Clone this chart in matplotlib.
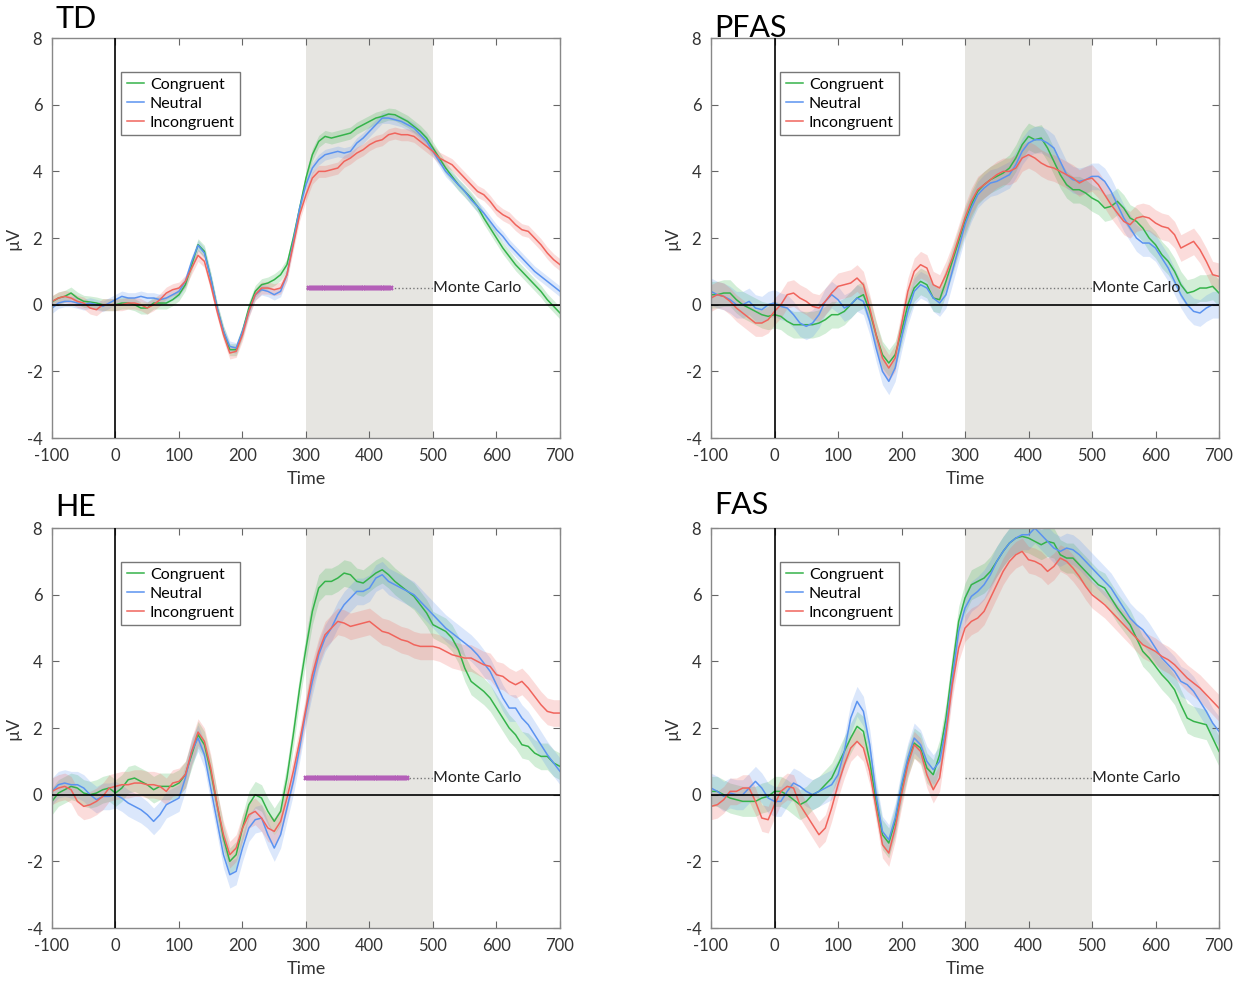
import numpy as np
import matplotlib
matplotlib.use("Agg")
import matplotlib.pyplot as plt

plt.rcParams['font.family'] = ['Lato', 'DejaVu Sans']
plt.rcParams['axes.unicode_minus'] = False

# time axis of the averaged ERPs (ms), one sample every 10 ms
time = np.arange(-100, 701, 10)

# --- TD ---
td_congruent = [0.08, 0.2, 0.25, 0.35, 0.2, 0.1, 0.08, 0.05, 0.0, 0.0,
                0.0, 0.05, 0.05, 0.0, -0.1, -0.1, 0.05, 0.05, 0.05, 0.15,
                0.3, 0.6, 1.2, 1.8, 1.6, 0.8, -0.1, -0.8, -1.35, -1.35,
                -0.8, -0.1, 0.4, 0.6, 0.65, 0.75, 0.9, 1.2, 2.0, 2.9,
                3.8, 4.5, 4.9, 5.05, 5.0, 5.05, 5.1, 5.15, 5.3, 5.4,
                5.5, 5.6, 5.65, 5.72, 5.7, 5.6, 5.5, 5.35, 5.2, 5.0,
                4.7, 4.4, 4.1, 3.85, 3.6, 3.4, 3.2, 2.95, 2.6, 2.3,
                2.0, 1.7, 1.45, 1.2, 1.0, 0.8, 0.6, 0.4, 0.15, -0.05, -0.25]
td_neutral = [-0.1, 0.05, 0.1, 0.1, 0.05, 0.0, 0.05, 0.0, -0.05, 0.05,
              0.15, 0.25, 0.2, 0.2, 0.25, 0.2, 0.2, 0.15, 0.2, 0.3,
              0.4, 0.7, 1.3, 1.78, 1.55, 0.8, -0.1, -0.8, -1.25, -1.3,
              -0.8, -0.2, 0.3, 0.45, 0.4, 0.3, 0.4, 0.9, 1.9, 2.9,
              3.6, 4.1, 4.35, 4.5, 4.55, 4.6, 4.55, 4.6, 4.85, 5.0,
              5.2, 5.4, 5.6, 5.6, 5.55, 5.5, 5.4, 5.3, 5.1, 4.9,
              4.6, 4.3, 4.0, 3.8, 3.6, 3.4, 3.15, 2.95, 2.75, 2.5,
              2.25, 2.05, 1.8, 1.6, 1.4, 1.2, 1.0, 0.85, 0.7, 0.55, 0.4]
td_incongruent = [0.1, 0.2, 0.25, 0.2, 0.1, 0.05, -0.1, -0.15, 0.0, 0.0,
                  0.0, 0.0, 0.05, 0.05, 0.0, -0.1, 0.0, 0.15, 0.35, 0.45,
                  0.5, 0.7, 1.1, 1.48, 1.3, 0.6, -0.2, -0.9, -1.45, -1.4,
                  -0.9, -0.2, 0.3, 0.5, 0.5, 0.45, 0.5, 0.9, 1.8, 2.7,
                  3.3, 3.8, 4.0, 4.0, 4.05, 4.1, 4.3, 4.4, 4.55, 4.65,
                  4.8, 4.9, 4.95, 5.1, 5.15, 5.1, 5.1, 5.05, 4.9, 4.75,
                  4.6, 4.4, 4.3, 4.2, 4.0, 3.8, 3.6, 3.4, 3.3, 3.1,
                  2.85, 2.7, 2.6, 2.4, 2.25, 2.2, 2.0, 1.8, 1.55, 1.35, 1.2]

# --- PFAS ---
pfas_congruent = [0.3, 0.3, 0.35, 0.35, 0.15, 0.0, -0.1, -0.2, -0.3, -0.35,
                  -0.3, -0.35, -0.5, -0.6, -0.6, -0.6, -0.6, -0.55, -0.45, -0.3,
                  -0.3, -0.2, 0.0, 0.2, 0.3, -0.2, -0.9, -1.5, -1.75, -1.5,
                  -0.8, 0.0, 0.5, 0.7, 0.6, 0.2, 0.15, 0.7, 1.3, 1.9,
                  2.5, 3.0, 3.4, 3.6, 3.75, 3.85, 3.95, 4.1, 4.4, 4.8,
                  5.05, 4.95, 5.0, 4.7, 4.3, 3.9, 3.6, 3.45, 3.45, 3.35,
                  3.2, 3.1, 2.9, 2.95, 3.1, 2.9, 2.6, 2.5, 2.3, 2.0,
                  1.8, 1.5, 1.3, 1.0, 0.6, 0.35, 0.4, 0.5, 0.5, 0.55, 0.35]
pfas_neutral = [0.4, 0.3, 0.25, 0.15, 0.0, 0.0, 0.1, -0.1, -0.15, 0.0,
                0.05, -0.05, -0.1, -0.3, -0.55, -0.65, -0.55, -0.3, 0.1, 0.3,
                0.15, -0.1, 0.0, 0.2, 0.1, -0.5, -1.3, -2.0, -2.3, -1.9,
                -1.0, -0.2, 0.4, 0.6, 0.5, 0.2, 0.05, 0.3, 1.0, 1.7,
                2.4, 2.9, 3.3, 3.5, 3.65, 3.7, 3.8, 3.9, 4.2, 4.6,
                4.85, 4.95, 4.95, 4.85, 4.7, 4.3, 3.9, 3.75, 3.7, 3.75,
                3.85, 3.85, 3.7, 3.4, 3.0, 2.6, 2.3, 2.0, 1.85, 1.85,
                1.7, 1.4, 1.1, 0.7, 0.3, 0.0, -0.2, -0.25, -0.1, 0.0, 0.0]
pfas_incongruent = [0.2, 0.3, 0.25, 0.1, -0.1, -0.25, -0.4, -0.55, -0.55, -0.45,
                    -0.2, 0.0, 0.3, 0.35, 0.2, 0.1, -0.05, -0.1, 0.1, 0.35,
                    0.55, 0.6, 0.65, 0.8, 0.6, -0.1, -0.9, -1.6, -1.9, -1.6,
                    -0.6, 0.4, 1.0, 1.2, 1.1, 0.6, 0.5, 0.9, 1.4, 2.0,
                    2.6, 3.1, 3.45, 3.6, 3.75, 3.9, 4.0, 4.0, 4.1, 4.4,
                    4.5, 4.4, 4.25, 4.15, 4.1, 4.0, 3.9, 3.8, 3.65, 3.75,
                    3.8, 3.6, 3.3, 3.0, 2.75, 2.5, 2.4, 2.6, 2.65, 2.6,
                    2.45, 2.35, 2.3, 2.1, 1.7, 1.8, 1.9, 1.65, 1.3, 0.9, 0.85]

# --- HE ---
he_congruent = [-0.2, 0.05, 0.15, 0.25, 0.2, 0.05, 0.0, 0.05, 0.15, 0.2,
                0.05, 0.2, 0.45, 0.5, 0.4, 0.3, 0.15, 0.25, 0.25, 0.25,
                0.35, 0.6, 1.2, 1.8, 1.5, 0.7, -0.3, -1.3, -2.0, -1.8,
                -1.0, -0.3, 0.0, -0.1, -0.5, -0.8, -0.5, 0.5, 1.8, 3.2,
                4.4, 5.5, 6.2, 6.4, 6.4, 6.5, 6.65, 6.6, 6.4, 6.35,
                6.5, 6.65, 6.75, 6.6, 6.4, 6.25, 6.1, 5.95, 5.7, 5.45,
                5.1, 5.0, 4.9, 4.7, 4.35, 3.8, 3.4, 3.25, 3.1, 2.9,
                2.6, 2.3, 2.0, 1.8, 1.5, 1.45, 1.25, 1.15, 1.15, 0.95, 0.85]
he_neutral = [0.1, 0.3, 0.35, 0.3, 0.3, 0.2, 0.0, -0.15, -0.05, -0.05,
              0.0, -0.1, -0.25, -0.35, -0.45, -0.6, -0.8, -0.6, -0.3, -0.2,
              -0.1, 0.5, 1.3, 1.7, 1.2, 0.2, -0.8, -1.8, -2.4, -2.3,
              -1.6, -1.0, -0.75, -0.7, -1.2, -1.6, -1.2, -0.4, 0.4, 1.4,
              2.5, 3.4, 4.2, 4.7, 5.0, 5.4, 5.7, 5.9, 6.1, 6.1,
              6.2, 6.5, 6.6, 6.4, 6.3, 6.2, 6.1, 6.0, 5.8, 5.6,
              5.4, 5.2, 5.0, 4.85, 4.7, 4.55, 4.4, 4.2, 3.95, 3.7,
              3.3, 2.9, 2.6, 2.6, 2.3, 2.1, 1.8, 1.5, 1.2, 0.95, 0.7]
he_incongruent = [0.1, 0.2, 0.25, 0.15, -0.2, -0.35, -0.3, -0.2, -0.05, 0.2,
                  0.25, 0.3, 0.3, 0.35, 0.35, 0.3, 0.3, 0.25, 0.1, 0.35,
                  0.4, 0.6, 1.3, 1.88, 1.6, 0.8, -0.3, -1.2, -1.8, -1.6,
                  -1.0, -0.6, -0.5, -0.7, -1.0, -1.1, -0.8, -0.1, 0.7, 1.6,
                  2.6, 3.6, 4.3, 4.8, 5.0, 5.2, 5.15, 5.05, 5.1, 5.15,
                  5.2, 5.05, 4.9, 4.85, 4.75, 4.65, 4.6, 4.5, 4.45, 4.45,
                  4.45, 4.4, 4.3, 4.2, 4.15, 4.1, 4.1, 4.0, 3.9, 3.85,
                  3.6, 3.55, 3.4, 3.3, 3.4, 3.2, 2.95, 2.7, 2.5, 2.45, 2.45]

# --- FAS ---
fas_congruent = [0.1, 0.1, 0.0, -0.1, -0.15, -0.2, -0.2, -0.2, -0.1, -0.05,
                 0.1, 0.1, 0.0, -0.15, -0.3, -0.2, 0.0, 0.1, 0.3, 0.5,
                 0.9, 1.3, 1.7, 2.05, 1.9, 1.0, -0.2, -1.2, -1.45, -0.8,
                 0.2, 1.0, 1.55, 1.4, 0.8, 0.6, 1.2, 2.3, 3.8, 5.2,
                 5.9, 6.3, 6.4, 6.5, 6.7, 7.0, 7.3, 7.55, 7.7, 7.75,
                 7.7, 7.6, 7.5, 7.6, 7.55, 7.2, 7.1, 7.1, 6.9, 6.7,
                 6.5, 6.3, 6.2, 5.9, 5.6, 5.35, 5.1, 4.7, 4.3, 4.1,
                 3.85, 3.6, 3.4, 3.15, 2.7, 2.3, 2.2, 2.15, 2.1, 1.7, 1.3]
fas_neutral = [0.2, 0.1, -0.05, 0.05, 0.0, 0.0, 0.2, 0.4, 0.2, -0.1,
               -0.2, -0.2, 0.1, 0.35, 0.25, 0.1, 0.0, 0.1, 0.2, 0.3,
               0.6, 1.3, 2.3, 2.8, 2.5, 1.5, 0.0, -1.1, -1.35, -0.7,
               0.3, 1.1, 1.7, 1.5, 1.0, 0.75, 1.0, 2.0, 3.5, 4.9,
               5.6, 5.95, 6.1, 6.3, 6.6, 7.0, 7.3, 7.55, 7.7, 7.8,
               7.8, 8.0, 7.8, 7.6, 7.4, 7.3, 7.4, 7.35, 7.2, 7.0,
               6.8, 6.6, 6.4, 6.2, 5.9, 5.6, 5.3, 5.1, 4.95, 4.7,
               4.4, 4.1, 3.9, 3.7, 3.4, 3.3, 3.1, 2.8, 2.5, 2.15, 1.9]
fas_incongruent = [-0.35, -0.3, -0.15, 0.1, 0.1, 0.2, 0.2, -0.2, -0.7, -0.75,
                   -0.3, 0.1, 0.25, 0.2, -0.3, -0.6, -0.9, -1.2, -1.0, -0.4,
                   0.3, 0.9, 1.4, 1.6, 1.4, 0.7, -0.4, -1.5, -1.75, -1.0,
                   0.0, 0.9, 1.5, 1.3, 0.6, 0.15, 0.5, 1.8, 3.3, 4.4,
                   5.0, 5.2, 5.3, 5.5, 5.9, 6.3, 6.7, 7.0, 7.2, 7.3,
                   7.05, 7.0, 6.9, 6.7, 6.85, 7.1, 7.0, 6.8, 6.55, 6.25,
                   6.0, 5.85, 5.7, 5.5, 5.3, 5.1, 4.9, 4.7, 4.5, 4.4,
                   4.3, 4.15, 4.05, 3.9, 3.7, 3.5, 3.35, 3.2, 3.0, 2.8, 2.6]

# half-width of the shaded error bands (congruent, neutral, incongruent)
td_sem = [0.18, 0.16, 0.18]
pfas_sem = [0.4, 0.4, 0.4]
he_sem = [0.4, 0.4, 0.4]
fas_sem = [0.45, 0.45, 0.4]

# Monte Carlo significant windows (ms)
td_sig = [(305, 435)]
he_sig = [(300, 460)]

conditions = ["Congruent", "Neutral", "Incongruent"]
colors = ["#35b34a", "#5b93f0", "#f0645c"]

panels = [
    ("TD", [td_congruent, td_neutral, td_incongruent], td_sem, td_sig),
    ("PFAS", [pfas_congruent, pfas_neutral, pfas_incongruent], pfas_sem, []),
    ("HE", [he_congruent, he_neutral, he_incongruent], he_sem, he_sig),
    ("FAS", [fas_congruent, fas_neutral, fas_incongruent], fas_sem, []),
]

fig = plt.figure(figsize=(12.5, 9.81), dpi=100)
ax_rects = [
    [0.0416, 0.5535, 0.4064, 0.4077],
    [0.5688, 0.5535, 0.4064, 0.4077],
    [0.0416, 0.0540, 0.4064, 0.4077],
    [0.5688, 0.0540, 0.4064, 0.4077],
]
title_y = [1.012, 0.99, 1.018, 1.022]

for (name, series, sem, sig), rect, ty in zip(panels, ax_rects, title_y):
    ax = fig.add_axes(rect)
    ax.axvspan(300, 500, color="#e6e5e1", zorder=0, lw=0)

    for vals, err, col, lab in zip(series, sem, colors, conditions):
        vals = np.asarray(vals)
        ax.fill_between(time, vals - err, vals + err, color=col, alpha=0.22,
                        lw=0, zorder=1)
        ax.plot(time, vals, color=col, lw=1.1, label=lab, zorder=2)

    ax.axhline(0, color="black", lw=1.2, zorder=3)
    ax.axvline(0, color="black", lw=1.2, zorder=3)

    # Monte Carlo row
    ax.plot([300, 500], [0.5, 0.5], color="#777777", ls=":", lw=1.0, zorder=3)
    for t0, t1 in sig:
        pts = np.arange(t0, t1 + 1, 3)
        ax.plot(pts, np.full(len(pts), 0.5), ls="none", marker="x",
                ms=3.5, mew=1.6, color="#b45fb8", zorder=4)
    ax.text(500, 0.5, "Monte Carlo", ha="left", va="center", fontsize=11.5,
            color="#222222", zorder=5)

    ax.set_xlim(-100, 700)
    ax.set_ylim(-4, 8)
    ax.set_xticks(range(-100, 701, 100))
    ax.set_yticks(range(-4, 9, 2))
    ax.tick_params(direction="in", top=True, right=True, length=5,
                   color="#666666", labelsize=12, labelcolor="#333333", pad=7)
    for sp in ax.spines.values():
        sp.set_color("#888888")
        sp.set_linewidth(1.0)
    ax.set_xlabel("Time", fontsize=13, color="#333333", labelpad=5)
    ax.set_ylabel("µV", fontsize=12.5, color="#333333", labelpad=4)

    ax.text(0.006, ty, name, transform=ax.transAxes, ha="left", va="bottom",
            fontsize=22, color="black")

    leg = ax.legend(loc="upper left", bbox_to_anchor=(0.136, 0.915),
                    fontsize=11.5, frameon=True, fancybox=False,
                    handlelength=1.1, handletextpad=0.35, borderpad=0.35,
                    labelspacing=0.3, borderaxespad=0)
    leg.get_frame().set_edgecolor("#555555")
    leg.get_frame().set_linewidth(1.0)

fig.savefig("out.png", dpi=100)
